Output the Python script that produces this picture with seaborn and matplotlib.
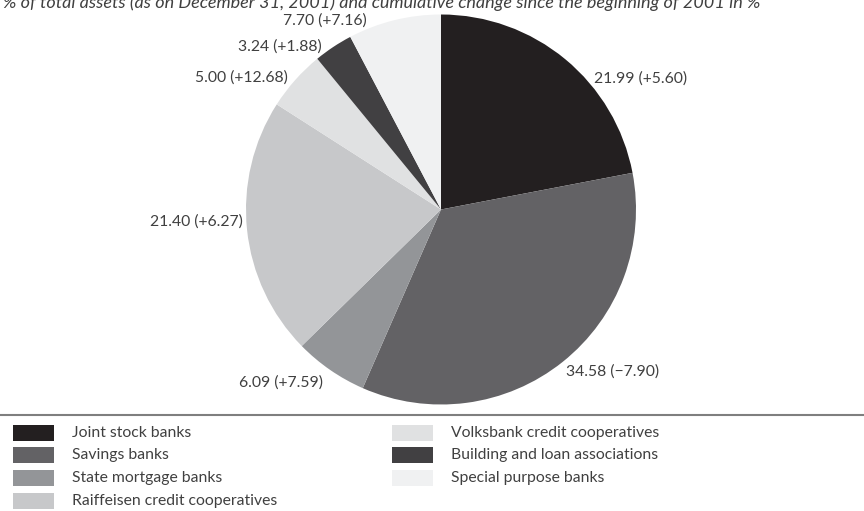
import matplotlib
matplotlib.use("Agg")
import matplotlib.pyplot as plt
from matplotlib.patches import Rectangle
from matplotlib.lines import Line2D
import seaborn as sns

# ---- data ----
categories = ["Joint stock banks", "Savings banks", "State mortgage banks",
              "Raiffeisen credit cooperatives", "Volksbank credit cooperatives",
              "Building and loan associations", "Special purpose banks"]
shares = [21.99, 34.58, 6.09, 21.40, 5.00, 3.24, 7.70]
changes = ["+5.60", "\u22127.90", "+7.59", "+6.27", "+12.68", "+1.88", "+7.16"]
title = "% of total assets (as on December 31, 2001) and cumulative change since the beginning of 2001 in %"

# ---- style ----
colors = ["#231f20", "#636265", "#939598", "#c7c8ca", "#e0e1e2", "#414042", "#f0f1f2"]
# label anchor positions (pie data units) and alignment
label_pos = [(0.785, 0.674, "left"), (0.641, -0.833, "left"), (-0.605, -0.885, "right"),
             (-1.015, -0.064, "right"), (-0.785, 0.679, "right"), (-0.610, 0.838, "right"),
             (-0.379, 0.967, "right")]

sns.set_theme(style="white")
plt.rcParams["font.family"] = ["Lato", "DejaVu Sans"]
txt_color = "#404040"
FS = 11.3

W, H = 864, 511
fig = plt.figure(figsize=(W / 100, H / 100), dpi=100)

cx, cy, R = 441, 209.5, 195
ax = fig.add_axes([(cx - R) / W, 1 - (cy + R) / H, 2 * R / W, 2 * R / H])
ax.pie(shares, colors=colors, startangle=90, counterclock=False, radius=1,
       wedgeprops=dict(linewidth=0))
ax.set_xlim(-1, 1)
ax.set_ylim(-1, 1)
ax.set_aspect("equal")
ax.axis("off")

for (x, y, ha), s, c in zip(label_pos, shares, changes):
    ax.text(x, y, f"{s:.2f} ({c})", ha=ha, va="center", fontsize=FS,
            color=txt_color, clip_on=False)

# title (partially clipped at the top like the reference)
fig.text(3 / W, 1 - 8 / H, title, ha="left", va="baseline", fontsize=13,
         style="italic", color=txt_color)

# separator line
fig.add_artist(Line2D([0, 1], [1 - 415 / H, 1 - 415 / H], transform=fig.transFigure,
                      color="#7f7f7f", linewidth=1.5))

# legend (manual, two columns)
col_x = [13, 392]
row_y = [433, 455, 477.5, 500.5]
per_col = 4
for i, (cat, col) in enumerate(zip(categories, colors)):
    c = i // per_col
    r = i % per_col
    x0 = col_x[c]
    yc = row_y[r]
    fig.add_artist(Rectangle((x0 / W, 1 - (yc + 8) / H), 41 / W, 16 / H,
                             transform=fig.transFigure, facecolor=col, edgecolor="none"))
    fig.text((x0 + 59) / W, 1 - yc / H, cat, ha="left", va="center",
             fontsize=FS, color=txt_color)

fig.savefig("out.png", dpi=100)
